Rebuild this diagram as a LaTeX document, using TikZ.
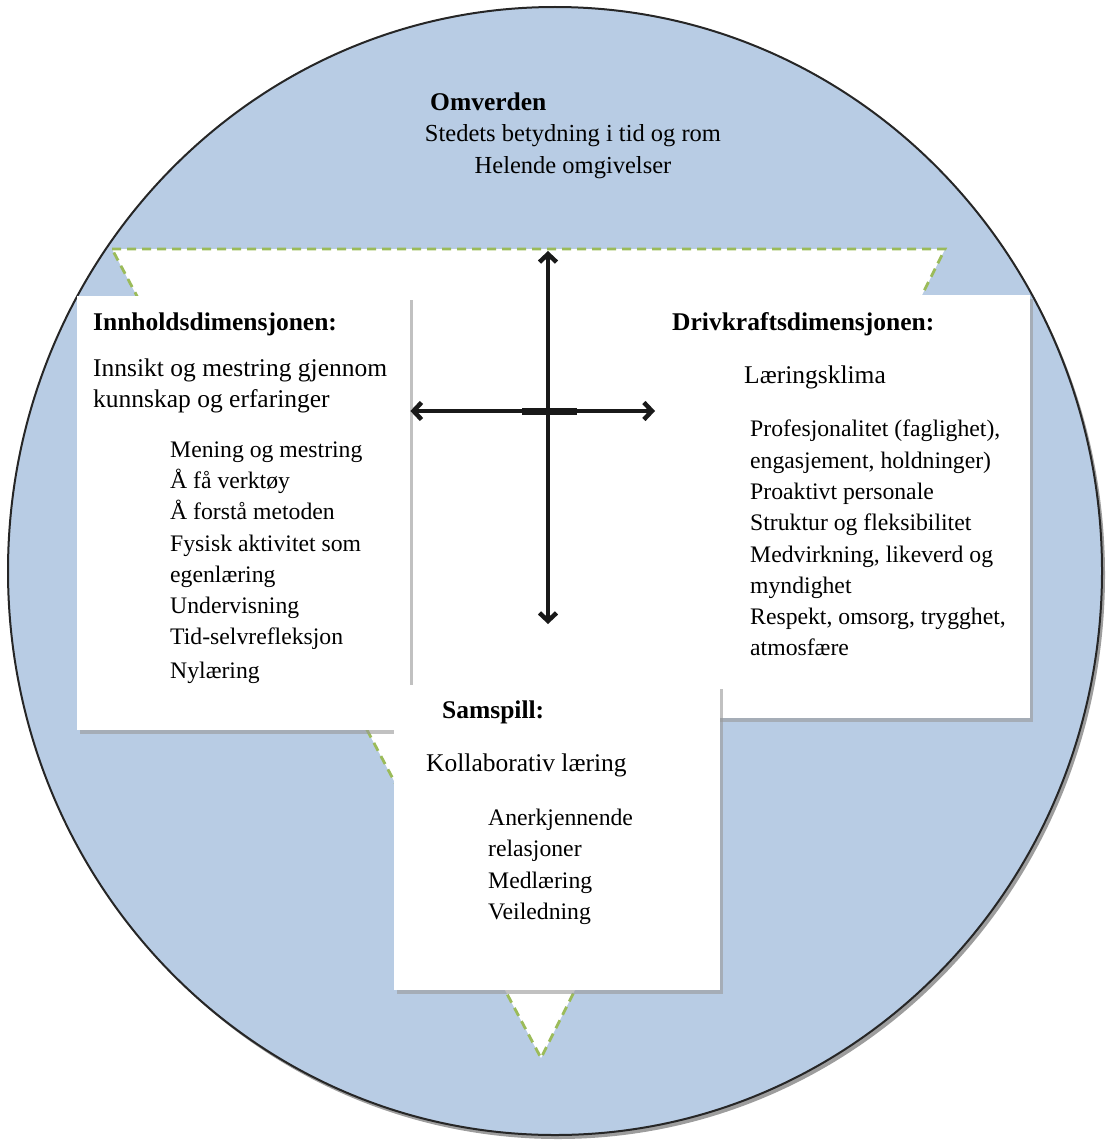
\documentclass[tikz,border=0pt]{standalone}
\usepackage{fontspec}
\setmainfont{Liberation Serif}
\usepackage{tikz}
\usetikzlibrary{arrows.meta, positioning, shadows}

\definecolor{skyblue}{RGB}{184,204,228}
\definecolor{leafgreen}{RGB}{155,187,89}

\tikzset{
	world/.style={draw=black!85, line width=2pt, fill=skyblue,
		drop shadow={shadow xshift=3pt, shadow yshift=-4pt, fill=black!55, opacity=0.7}},
	wedge/.style={draw=leafgreen, fill=white, line width=2.8pt, dash pattern=on 9pt off 6pt},
	card/.style={fill=white, inner sep=0pt,
		drop shadow={shadow xshift=3pt, shadow yshift=-4pt, fill=black!40, opacity=0.6}},
	headtxt/.style={font=\fontsize{25.5}{31}\selectfont\bfseries, anchor=base west, inner sep=0pt},
	subtxt/.style={font=\fontsize{25.5}{31}\selectfont, anchor=base west, inner sep=0pt},
	itemtxt/.style={font=\fontsize{23.7}{31}\selectfont, anchor=base west, inner sep=0pt},
	twoway/.style={draw=black!90, line width=4.5pt, {Straight Barb[length=8pt, width=17pt]}-{Straight Barb[length=8pt, width=17pt]}}
}

\begin{document}
\begin{tikzpicture}[x=1pt, y=-1pt]
	\useasboundingbox (0,0) rectangle (1114,1140);

	% outer world
	\path[world] (555,571) ellipse [x radius=547pt, y radius=564pt];
	\path[wedge] (112,249) -- (945,249) -- (541,1058) -- cycle;

	% the three dimension cards
	\node[card, minimum width=333pt, minimum height=434pt, anchor=north west] (inno) at (77,296) {};
	\node[card, minimum width=375pt, minimum height=423pt, anchor=north west] (drive) at (655,295) {};
	\node[card, minimum width=326pt, minimum height=305pt, anchor=north west] (samsp) at (394,685) {};

	% cross of arrows
	\coordinate (cross) at (548,411);
	\coordinate (crosstop) at (548,251);
	\coordinate (crossbot) at (548,624);
	\draw[twoway] (crosstop) -- (crossbot);
	\draw[twoway] (inno.east |- cross) -- (drive.west |- cross);
	\draw[draw=black!90, line width=7pt] ([xshift=-26pt]cross) -- ([xshift=29pt]cross);

	% Omverden
	\node[headtxt] (omv) at (430,110) {Omverden};
	\node[subtxt, font=\fontsize{24.5}{31}\selectfont, anchor=base] (omv1) at (573,141) {Stedets betydning i tid og rom};
	\node[subtxt, font=\fontsize{24.5}{31}\selectfont, anchor=base] (omv2) at (573,173) {Helende omgivelser};

	% Innholdsdimensjonen
	\node[headtxt] (innohead) at (93,330) {Innholdsdimensjonen:};
	\node[subtxt] (innosub1) at (93,376) {Innsikt og mestring gjennom};
	\node[subtxt] (innosub2) at (93,407) {kunnskap og erfaringer};
	\foreach \txt/\yy [count=\i] in {{Mening og mestring}/457, {Å få verktøy}/488, {Å forstå metoden}/519,
		{Fysisk aktivitet som}/551, {egenlæring}/582, {Undervisning}/613, {Tid-selvrefleksjon}/644, {Nylæring}/678}
		\node[itemtxt] (innoitem\i) at (170,\yy) {\txt};

	% Drivkraftsdimensjonen
	\node[headtxt] (drivehead) at (672,330) {Drivkraftsdimensjonen:};
	\node[subtxt] (drivesub) at (744,383) {Læringsklima};
	\foreach \txt/\yy [count=\i] in {{Profesjonalitet (faglighet),}/436, {engasjement, holdninger)}/468,
		{Proaktivt personale}/499, {Struktur og fleksibilitet}/530, {Medvirkning, likeverd og}/562,
		{myndighet}/593, {Respekt, omsorg, trygghet,}/624, {atmosfære}/655}
		\node[itemtxt] (driveitem\i) at (750,\yy) {\txt};

	% Samspill
	\node[headtxt] (samsphead) at (442,718) {Samspill:};
	\node[subtxt] (samspsub) at (426,771) {Kollaborativ læring};
	\foreach \txt/\yy [count=\i] in {{Anerkjennende}/825, {relasjoner}/856, {Medlæring}/888, {Veiledning}/919}
		\node[itemtxt] (samspitem\i) at (488,\yy) {\txt};
\end{tikzpicture}
\end{document}
